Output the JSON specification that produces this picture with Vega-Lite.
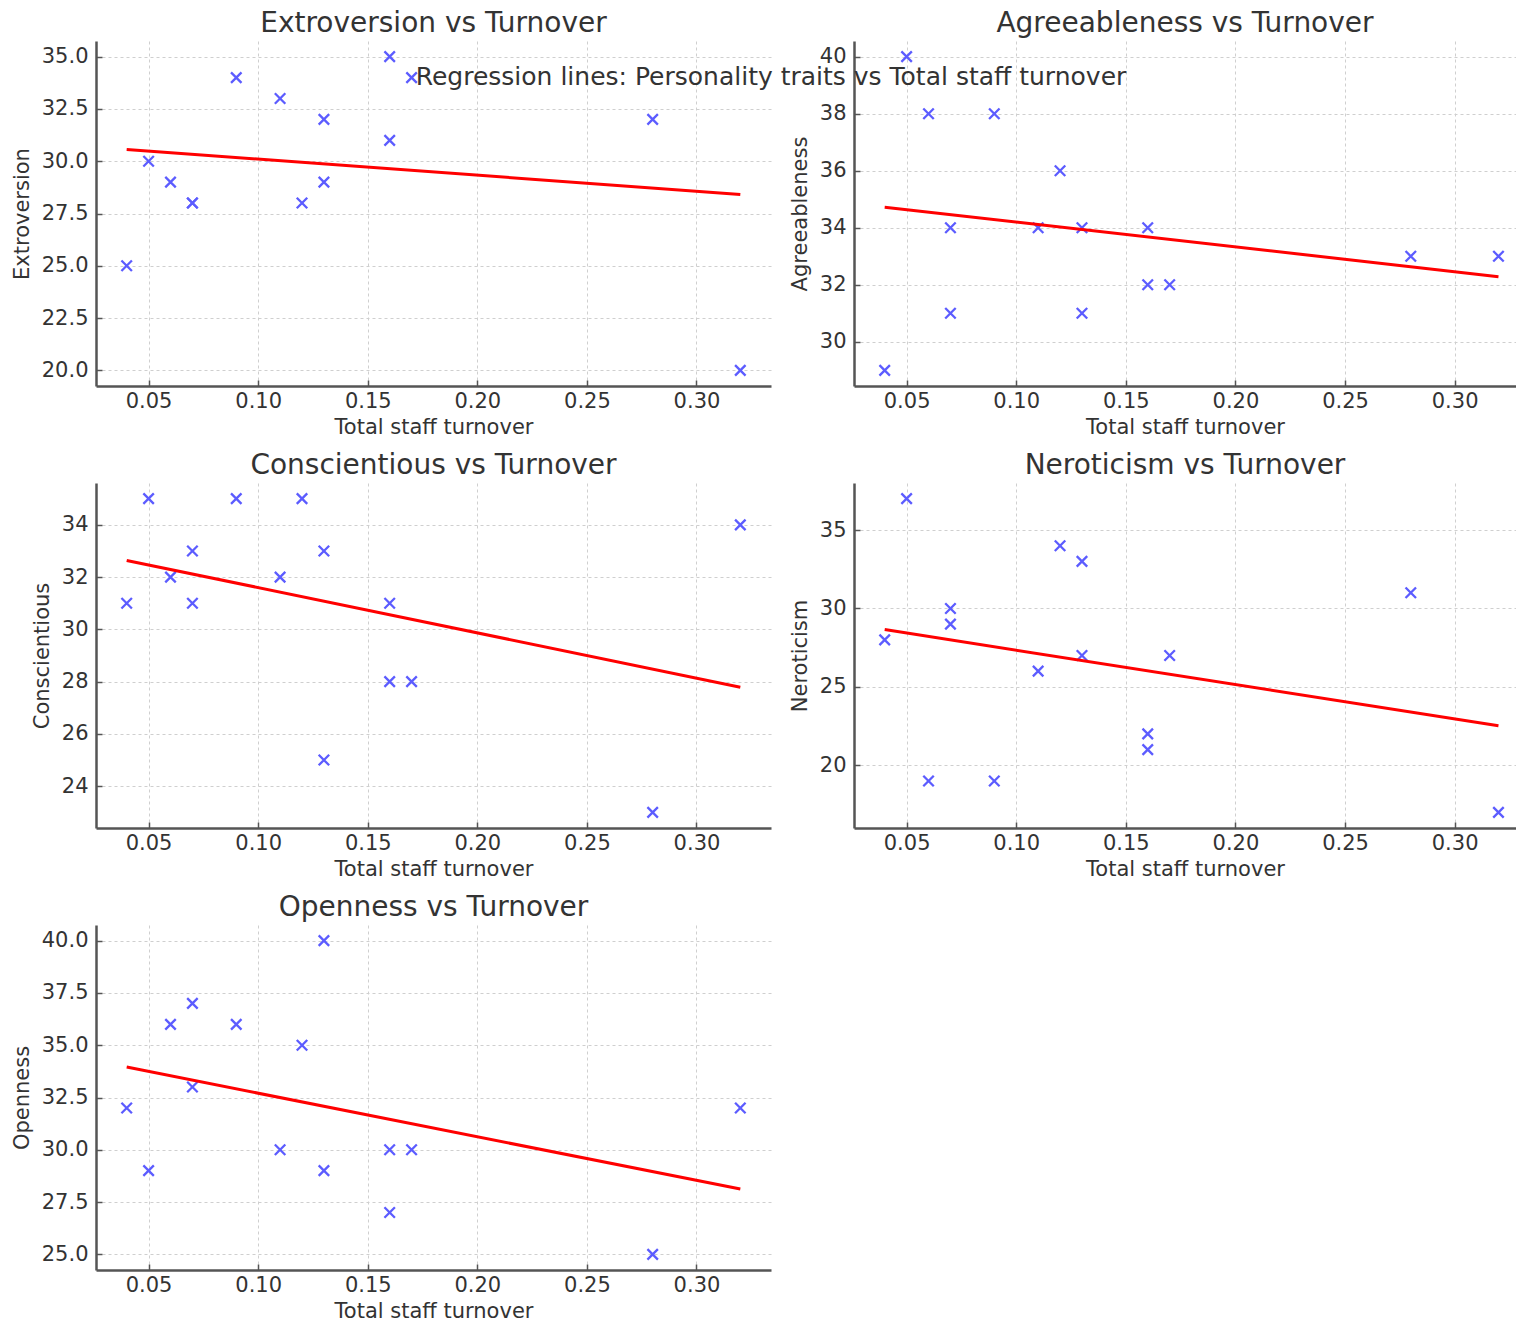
{
  "$schema": "https://vega.github.io/schema/vega-lite/v6.json",
  "padding": {"left": 11, "top": 10, "right": 0, "bottom": 0},
  "background": "white",
  "bounds": "flush",
  "columns": 2,
  "spacing": {"row": 97, "column": 83},
  "title": {"text": "Regression lines: Personality traits vs Total staff turnover", "anchor": "middle", "frame": "group", "offset": -80, "dx": 675, "fontSize": 25, "font": "DejaVu Sans", "fontWeight": "normal", "color": "#333"},
  "data": {"values": [
    {"turnover": 0.04, "Extroversion": 25, "Agreeableness": 29, "Conscientious": 31, "Neroticism": 28, "Openness": 32},
    {"turnover": 0.05, "Extroversion": 30, "Agreeableness": 40, "Conscientious": 35, "Neroticism": 37, "Openness": 29},
    {"turnover": 0.06, "Extroversion": 29, "Agreeableness": 38, "Conscientious": 32, "Neroticism": 19, "Openness": 36},
    {"turnover": 0.07, "Extroversion": 28, "Agreeableness": 34, "Conscientious": 33, "Neroticism": 30, "Openness": 37},
    {"turnover": 0.07, "Extroversion": 28, "Agreeableness": 31, "Conscientious": 31, "Neroticism": 29, "Openness": 33},
    {"turnover": 0.09, "Extroversion": 34, "Agreeableness": 38, "Conscientious": 35, "Neroticism": 19, "Openness": 36},
    {"turnover": 0.11, "Extroversion": 33, "Agreeableness": 34, "Conscientious": 32, "Neroticism": 26, "Openness": 30},
    {"turnover": 0.12, "Extroversion": 28, "Agreeableness": 36, "Conscientious": 35, "Neroticism": 34, "Openness": 35},
    {"turnover": 0.13, "Extroversion": 32, "Agreeableness": 34, "Conscientious": 33, "Neroticism": 33, "Openness": 40},
    {"turnover": 0.13, "Extroversion": 29, "Agreeableness": 31, "Conscientious": 25, "Neroticism": 27, "Openness": 29},
    {"turnover": 0.16, "Extroversion": 35, "Agreeableness": 34, "Conscientious": 31, "Neroticism": 22, "Openness": 30},
    {"turnover": 0.16, "Extroversion": 31, "Agreeableness": 32, "Conscientious": 28, "Neroticism": 21, "Openness": 27},
    {"turnover": 0.17, "Extroversion": 34, "Agreeableness": 32, "Conscientious": 28, "Neroticism": 27, "Openness": 30},
    {"turnover": 0.28, "Extroversion": 32, "Agreeableness": 33, "Conscientious": 23, "Neroticism": 31, "Openness": 25},
    {"turnover": 0.32, "Extroversion": 20, "Agreeableness": 33, "Conscientious": 34, "Neroticism": 17, "Openness": 32}
  ]},
  "concat": [
    {
      "title": "Extroversion vs Turnover",
      "width": 675, "height": 345,
      "encoding": {
        "x": {"field": "turnover", "type": "quantitative", "scale": {"domain": [0.026, 0.334], "nice": false, "zero": false}, "axis": {"values": [0.05, 0.1, 0.15, 0.2, 0.25, 0.3], "format": ".2f", "title": "Total staff turnover"}},
        "y": {"field": "Extroversion", "type": "quantitative", "scale": {"domain": [19.25, 35.75], "nice": false, "zero": false}, "axis": {"values": [20, 22.5, 25, 27.5, 30, 32.5, 35], "format": ".1f", "title": "Extroversion"}}
      },
      "layer": [
        {"mark": {"type": "point", "shape": "M-1,-1L1,1M1,-1L-1,1", "filled": false, "color": "#5c5cff", "strokeWidth": 2.3, "size": 110, "opacity": 1}},
        {"transform": [{"regression": "Extroversion", "on": "turnover"}], "mark": {"type": "line", "color": "#ff0000", "strokeWidth": 3}}
      ]
    },
    {
      "title": "Agreeableness vs Turnover",
      "width": 662, "height": 345,
      "encoding": {
        "x": {"field": "turnover", "type": "quantitative", "scale": {"domain": [0.026, 0.328], "nice": false, "zero": false}, "axis": {"values": [0.05, 0.1, 0.15, 0.2, 0.25, 0.3], "format": ".2f", "title": "Total staff turnover"}},
        "y": {"field": "Agreeableness", "type": "quantitative", "scale": {"domain": [28.45, 40.55], "nice": false, "zero": false}, "axis": {"values": [30, 32, 34, 36, 38, 40], "format": "d", "title": "Agreeableness"}}
      },
      "layer": [
        {"mark": {"type": "point", "shape": "M-1,-1L1,1M1,-1L-1,1", "filled": false, "color": "#5c5cff", "strokeWidth": 2.3, "size": 110, "opacity": 1}},
        {"transform": [{"regression": "Agreeableness", "on": "turnover"}], "mark": {"type": "line", "color": "#ff0000", "strokeWidth": 3}}
      ]
    },
    {
      "title": "Conscientious vs Turnover",
      "width": 675, "height": 345,
      "encoding": {
        "x": {"field": "turnover", "type": "quantitative", "scale": {"domain": [0.026, 0.334], "nice": false, "zero": false}, "axis": {"values": [0.05, 0.1, 0.15, 0.2, 0.25, 0.3], "format": ".2f", "title": "Total staff turnover"}},
        "y": {"field": "Conscientious", "type": "quantitative", "scale": {"domain": [22.4, 35.6], "nice": false, "zero": false}, "axis": {"values": [24, 26, 28, 30, 32, 34], "format": "d", "title": "Conscientious"}}
      },
      "layer": [
        {"mark": {"type": "point", "shape": "M-1,-1L1,1M1,-1L-1,1", "filled": false, "color": "#5c5cff", "strokeWidth": 2.3, "size": 110, "opacity": 1}},
        {"transform": [{"regression": "Conscientious", "on": "turnover"}], "mark": {"type": "line", "color": "#ff0000", "strokeWidth": 3}}
      ]
    },
    {
      "title": "Neroticism vs Turnover",
      "width": 662, "height": 345,
      "encoding": {
        "x": {"field": "turnover", "type": "quantitative", "scale": {"domain": [0.026, 0.328], "nice": false, "zero": false}, "axis": {"values": [0.05, 0.1, 0.15, 0.2, 0.25, 0.3], "format": ".2f", "title": "Total staff turnover"}},
        "y": {"field": "Neroticism", "type": "quantitative", "scale": {"domain": [16, 38], "nice": false, "zero": false}, "axis": {"values": [20, 25, 30, 35], "format": "d", "title": "Neroticism"}}
      },
      "layer": [
        {"mark": {"type": "point", "shape": "M-1,-1L1,1M1,-1L-1,1", "filled": false, "color": "#5c5cff", "strokeWidth": 2.3, "size": 110, "opacity": 1}},
        {"transform": [{"regression": "Neroticism", "on": "turnover"}], "mark": {"type": "line", "color": "#ff0000", "strokeWidth": 3}}
      ]
    },
    {
      "title": "Openness vs Turnover",
      "width": 675, "height": 345,
      "encoding": {
        "x": {"field": "turnover", "type": "quantitative", "scale": {"domain": [0.026, 0.334], "nice": false, "zero": false}, "axis": {"values": [0.05, 0.1, 0.15, 0.2, 0.25, 0.3], "format": ".2f", "title": "Total staff turnover"}},
        "y": {"field": "Openness", "type": "quantitative", "scale": {"domain": [24.25, 40.75], "nice": false, "zero": false}, "axis": {"values": [25, 27.5, 30, 32.5, 35, 37.5, 40], "format": ".1f", "title": "Openness"}}
      },
      "layer": [
        {"mark": {"type": "point", "shape": "M-1,-1L1,1M1,-1L-1,1", "filled": false, "color": "#5c5cff", "strokeWidth": 2.3, "size": 110, "opacity": 1}},
        {"transform": [{"regression": "Openness", "on": "turnover"}], "mark": {"type": "line", "color": "#ff0000", "strokeWidth": 3}}
      ]
    }
  ],
  "config": {
    "view": {"stroke": null},
    "font": "DejaVu Sans",
    "title": {"font": "DejaVu Sans", "fontSize": 28, "fontWeight": "normal", "color": "#333", "offset": 3},
    "axis": {
      "labelFont": "DejaVu Sans", "labelFontSize": 21, "labelColor": "#333",
      "titleFont": "DejaVu Sans", "titleFontSize": 21, "titleFontWeight": "normal", "titleColor": "#333",
      "domainColor": "#555", "domainWidth": 2.5,
      "tickColor": "#555", "tickWidth": 1.5, "tickSize": -6,
      "grid": true, "gridColor": "#cfcfcf", "gridDash": [3, 3], "gridWidth": 1
    },
    "axisX": {"labelPadding": 10, "titlePadding": 5},
    "axisY": {"labelPadding": 14, "titlePadding": 9}
  }
}
